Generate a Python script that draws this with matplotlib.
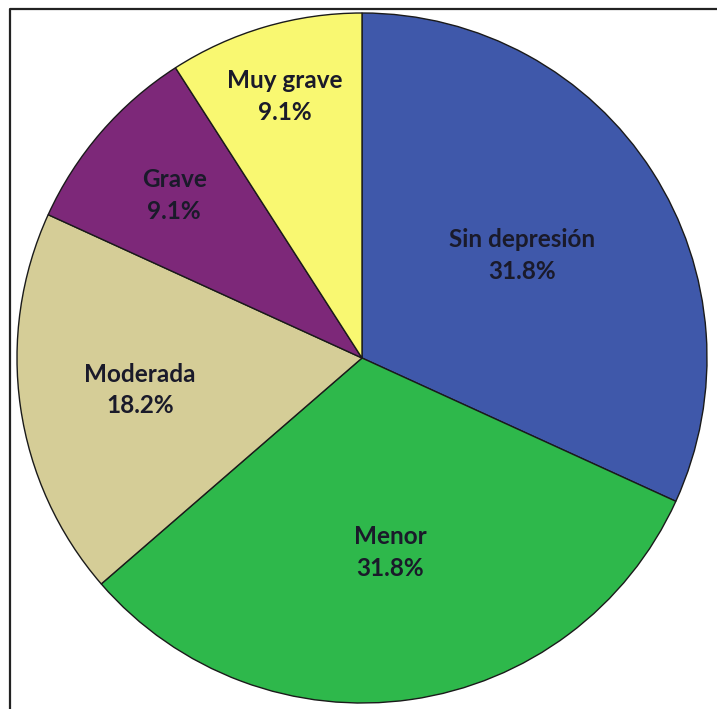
import numpy as np
import matplotlib.pyplot as plt
from matplotlib.lines import Line2D

# Data (counts giving 31.8 / 31.8 / 18.2 / 9.1 / 9.1 %)
categories = ["Sin depresión", "Menor", "Moderada", "Grave", "Muy grave"]
counts = [7, 7, 4, 2, 2]
colors = ["#3F58AA", "#2EB84B", "#D5CD97", "#7D2879", "#F9F871"]
label_radius = [0.55, 0.57, 0.65, 0.72, 0.79]

plt.rcParams["font.family"] = ["Lato", "DejaVu Sans"]

fig = plt.figure(figsize=(7.17, 7.09), dpi=100)
W, H = 717, 709
cx, cy, R = 362, 358, 345
ax = fig.add_axes([(cx - R) / W, (H - cy - R) / H, 2 * R / W, 2 * R / H])

wedges, _ = ax.pie(counts, colors=colors, startangle=90, counterclock=False,
                   radius=1, wedgeprops=dict(edgecolor="#1a1a1a", linewidth=1.0))
ax.set_xlim(-1, 1)
ax.set_ylim(-1, 1)
ax.axis("off")

total = sum(counts)
for w, name, n, r in zip(wedges, categories, counts, label_radius):
    ang = np.deg2rad((w.theta1 + w.theta2) / 2)
    x, y = r * np.cos(ang), r * np.sin(ang)
    ax.text(x, y, f"{name}\n{100 * n / total:.1f}%", ha="center", va="center",
            fontsize=17.5, fontweight="bold", color="#1a1a2a", linespacing=1.45)

# outer frame (only left and top visible)
fx = 10 / W
fy = 1 - 9 / H
fig.add_artist(Line2D([fx, fx, 1], [0, fy, fy], transform=fig.transFigure,
                      color="#222222", linewidth=1.6))

fig.savefig("out.png", dpi=100)
